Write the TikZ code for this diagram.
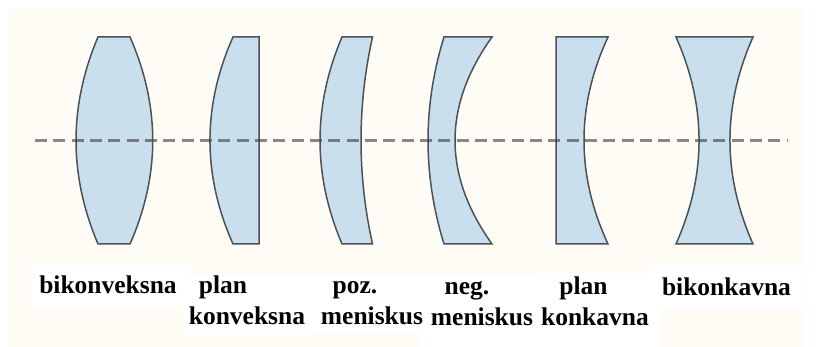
\documentclass[tikz,border=0pt]{standalone}
\usepackage{fontspec}
\setmainfont{Liberation Serif}
\definecolor{cream}{HTML}{FFFCF5}
\definecolor{glass}{HTML}{C9DFEE}
\definecolor{edgeline}{HTML}{4A5258}
\definecolor{axisline}{HTML}{404040}
\tikzset{
  lens/.style={fill=glass,draw=edgeline,line width=1.5pt,line join=miter},
  lab/.style={anchor=base,inner sep=0pt,font=\fontsize{25.5}{26}\selectfont\bfseries},
  patch/.style={fill=white,draw=none}
}
\begin{document}
\begin{tikzpicture}[x=1pt,y=-1pt]
\useasboundingbox (0,0) rectangle (816,347);
\fill[white] (0,0) rectangle (816,347);
\fill[cream] (8,8) rectangle (804,347);
% white patches behind the labels
\fill[patch] (31,265) rectangle (190,306);
\fill[patch] (183,274) rectangle (313,335);
\fill[patch] (313,276) rectangle (420,333);
\fill[patch] (420,276) rectangle (534,347);
\fill[patch] (534,273) rectangle (660,347);
\fill[patch] (646,265) rectangle (801,308);
% lenses
\draw[lens] (98,37) -- (130,37) .. controls (160.3,106) and (160.3,175) .. (130,244) -- (98,244) .. controls (68.7,175) and (68.7,106) .. (98,37) -- cycle;
\draw[lens] (233,37) -- (259,37) -- (259,244) -- (233,244) .. controls (202.3,175) and (202.3,106) .. (233,37) -- cycle;
\draw[lens] (342,37) -- (372.5,37) .. controls (357.2,106) and (357.2,175) .. (372.5,244) -- (342,244) .. controls (312.7,175) and (312.7,106) .. (342,37) -- cycle;
\draw[lens] (444,37) -- (492,37) .. controls (442.7,106) and (442.7,175) .. (492,244) -- (444,244) .. controls (422.7,175) and (422.7,106) .. (444,37) -- cycle;
\draw[lens] (556,37) -- (608,37) .. controls (576,106) and (576,175) .. (608,244) -- (556,244) -- cycle;
\draw[lens] (676,37) -- (753,37) .. controls (722.3,106) and (722.3,175) .. (753,244) -- (676,244) .. controls (706.7,175) and (706.7,106) .. (676,37) -- cycle;
% axis
\coordinate (axisL) at (35,140.5);
\coordinate (axisR) at (787,140.5);
\draw[axisline,opacity=.62,line width=2.4pt,dash pattern=on 12pt off 6.33pt] (axisL) -- (axisR);
% labels
\node[lab] (l1) at (108,294) {bikonveksna};
\node[lab] (l2a) at (223,294) {plan};
\node[lab] (l2b) at (247,324) {konveksna};
\node[lab] (l3a) at (355,294) {poz.};
\node[lab] (l3b) at (372,324) {meniskus};
\node[lab] (l4a) at (467,294.5) {neg.};
\node[lab] (l4b) at (482,325) {meniskus};
\node[lab] (l5a) at (583.5,294.5) {plan};
\node[lab] (l5b) at (595,325) {konkavna};
\node[lab] (l6) at (726.5,295.5) {bikonkavna};
\end{tikzpicture}
\end{document}
